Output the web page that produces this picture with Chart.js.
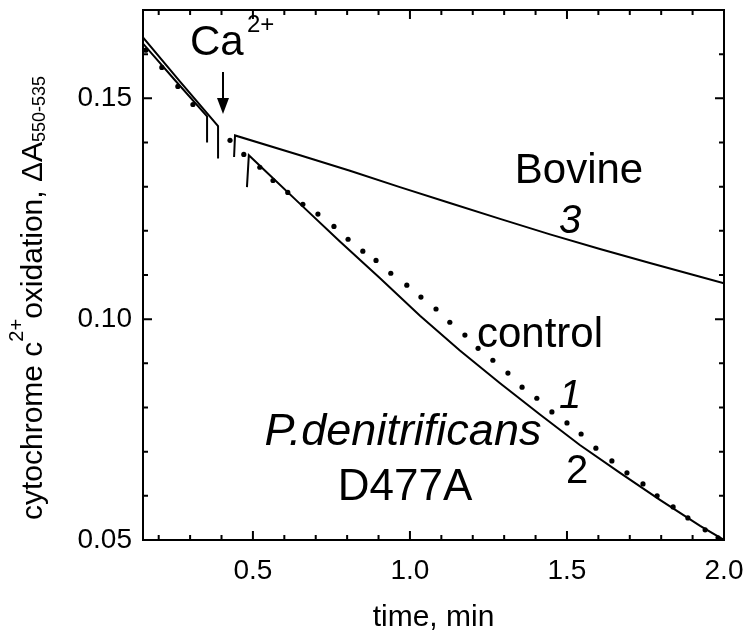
<!DOCTYPE html>
<html><head><meta charset="utf-8">
<script src="https://cdn.jsdelivr.net/npm/chart.js@4"></script>
<style>html,body{margin:0;padding:0;background:#fff}canvas{display:block}</style>
</head><body>
<canvas id="c" width="751" height="640"></canvas>
<script>
// ---- data (time, min / ΔA550-535) ----
const bovineX = [0.150, 0.268, 0.389, 0.389, 0.415, 0.440, 0.443, 0.650, 0.809, 0.968, 1.127, 1.287, 1.446, 1.605, 1.764, 1.924, 2.000];
const bovineY = [0.1638, 0.1538, 0.1437, 0.1364, null, 0.1367, 0.1416, 0.1371, 0.1336, 0.1299, 0.1263, 0.1227, 0.1192, 0.1159, 0.1127, 0.1096, 0.1081];

const d477aX = [0.150, 0.252, 0.354, 0.354, 0.420, 0.481, 0.487, 0.554, 0.650, 0.777, 0.904, 1.032, 1.159, 1.287, 1.414, 1.541, 1.669, 1.796, 1.924, 2.000];
const d477aY = [0.1624, 0.1541, 0.1459, 0.1400, null, 0.1299, 0.1371, 0.1326, 0.1261, 0.1176, 0.1093, 0.1008, 0.0929, 0.0855, 0.0784, 0.0715, 0.0652, 0.0591, 0.0532, 0.0500];

const controlX = [0.159, 0.210, 0.261, 0.309, 0.427, 0.471, 0.522, 0.564, 0.611, 0.659, 0.707, 0.758, 0.803, 0.850, 0.892, 0.939, 0.990, 1.035, 1.083, 1.127, 1.175, 1.217, 1.264, 1.312, 1.357, 1.404, 1.452, 1.500, 1.545, 1.592, 1.643, 1.691, 1.742, 1.787, 1.838, 1.885, 1.940, 1.981];
const controlY = [0.1609, 0.1570, 0.1527, 0.1486, 0.1405, 0.1373, 0.1344, 0.1314, 0.1287, 0.1260, 0.1238, 0.1210, 0.1181, 0.1154, 0.1133, 0.1104, 0.1077, 0.1050, 0.1023, 0.0993, 0.0964, 0.0934, 0.0907, 0.0878, 0.0846, 0.0821, 0.0790, 0.0765, 0.0740, 0.0708, 0.0679, 0.0652, 0.0627, 0.0600, 0.0575, 0.0550, 0.0523, 0.0505];

const xTickValues = [0.5, 1.0, 1.5, 2.0];
const xMinorTicks = [0.2, 0.3, 0.4, 0.6, 0.7, 0.8, 0.9, 1.1, 1.2, 1.3, 1.4, 1.6, 1.7, 1.8, 1.9];
const yTickValues = [0.05, 0.10, 0.15];
const yMinorTicks = [0.06, 0.07, 0.08, 0.09, 0.11, 0.12, 0.13, 0.14, 0.16];

const FONT = "'Liberation Sans', Arial, Helvetica, sans-serif";

function pts(xs, ys) { return xs.map((x, i) => ({ x: x, y: ys[i] })); }

const framePlugin = {
  id: 'frame',
  afterDatasetsDraw(chart) {
    const { ctx, chartArea: a, scales: { x, y } } = chart;
    ctx.save();
    ctx.strokeStyle = '#000';
    ctx.lineWidth = 2;
    ctx.strokeRect(a.left, a.top, a.right - a.left, a.bottom - a.top);
    ctx.beginPath();
    const tx = (v, len) => {
      const p = x.getPixelForValue(v);
      ctx.moveTo(p, a.bottom); ctx.lineTo(p, a.bottom - len);
      ctx.moveTo(p, a.top); ctx.lineTo(p, a.top + len);
    };
    const ty = (v, len) => {
      const p = y.getPixelForValue(v);
      ctx.moveTo(a.left, p); ctx.lineTo(a.left + len, p);
      ctx.moveTo(a.right, p); ctx.lineTo(a.right - len, p);
    };
    xTickValues.forEach(v => tx(v, 9));
    xMinorTicks.forEach(v => tx(v, 5));
    yTickValues.forEach(v => ty(v, 9));
    yMinorTicks.forEach(v => ty(v, 5));
    ctx.stroke();
    ctx.restore();
  },
  afterDraw(chart) {
    const ctx = chart.ctx;
    ctx.save();
    ctx.fillStyle = '#000';
    ctx.textBaseline = 'alphabetic';
    const txt = (s, px, py, size, italic, align) => {
      ctx.font = (italic ? 'italic ' : '') + size + 'px ' + FONT;
      ctx.textAlign = align || 'center';
      ctx.fillText(s, px, py);
    };
    txt('Ca', 190, 55, 42, false, 'left');
    txt('2+', 247, 32, 24, false, 'left');
    txt('Bovine', 579, 183, 42);
    txt('3', 570, 233, 40, true);
    txt('control', 540, 347, 42);
    txt('1', 570, 408, 40, true);
    txt('P.denitrificans', 403, 445, 45, true);
    txt('D477A', 405, 500, 44);
    txt('2', 577, 483, 40);
    // arrow
    ctx.strokeStyle = '#000';
    ctx.lineWidth = 2;
    ctx.beginPath(); ctx.moveTo(223, 72); ctx.lineTo(223, 100); ctx.stroke();
    ctx.beginPath(); ctx.moveTo(217, 98); ctx.lineTo(229, 98); ctx.lineTo(223, 114); ctx.closePath(); ctx.fill();
    // y axis title
    ctx.translate(42, 298);
    ctx.rotate(-Math.PI / 2);
    ctx.textAlign = 'left';
    const segs = [
      ['cytochrome c', 30, 0],
      ['2+', 20, -19],
      ['oxidation, \u0394A', 30, 0],
      ['550-535', 18, 3]
    ];
    let total = 0;
    segs.forEach(s => { ctx.font = s[1] + 'px ' + FONT; total += ctx.measureText(s[0]).width; });
    let cx = -total / 2;
    segs.forEach(s => {
      ctx.font = s[1] + 'px ' + FONT;
      ctx.fillText(s[0], cx, s[2]);
      cx += ctx.measureText(s[0]).width;
    });
    ctx.restore();
  }
};

new Chart(document.getElementById('c'), {
  type: 'line',
  data: {
    datasets: [
      { label: '3 Bovine', data: pts(bovineX, bovineY), borderColor: '#000', borderWidth: 2, pointRadius: 0, tension: 0, fill: false },
      { label: '2 D477A', data: pts(d477aX, d477aY), borderColor: '#000', borderWidth: 2, pointRadius: 0, tension: 0, fill: false },
      { label: '1 control', data: pts(controlX, controlY), showLine: false, pointRadius: 2.6, pointBorderWidth: 0, pointBackgroundColor: '#000', borderColor: '#000' }
    ]
  },
  options: {
    responsive: false,
    animation: false,
    devicePixelRatio: 1,
    layout: { padding: { top: 10, right: 27, left: 0, bottom: 0 } },
    plugins: { legend: { display: false }, tooltip: { enabled: false } },
    scales: {
      x: {
        type: 'linear', min: 0.15, max: 2.0,
        afterBuildTicks: s => { s.ticks = xTickValues.map(v => ({ value: v })); },
        afterFit: s => { s.height = 100; s.paddingLeft = 0; s.paddingRight = 0; },
        grid: { display: false, drawTicks: false },
        border: { display: false },
        ticks: { color: '#000', padding: 14, font: { family: FONT, size: 28 }, callback: v => v.toFixed(1), maxRotation: 0 },
        title: { display: true, text: 'time, min', color: '#000', font: { family: FONT, size: 30 }, padding: { top: 0, bottom: 4 } }
      },
      y: {
        type: 'linear', min: 0.05, max: 0.17,
        afterBuildTicks: s => { s.ticks = yTickValues.map(v => ({ value: v })); },
        afterFit: s => { s.width = 143; s.paddingTop = 0; s.paddingBottom = 0; },
        grid: { display: false, drawTicks: false },
        border: { display: false },
        ticks: { color: '#000', padding: 11, font: { family: FONT, size: 28 }, callback: v => v.toFixed(2) }
      }
    }
  },
  plugins: [framePlugin]
});
</script>
</body></html>
